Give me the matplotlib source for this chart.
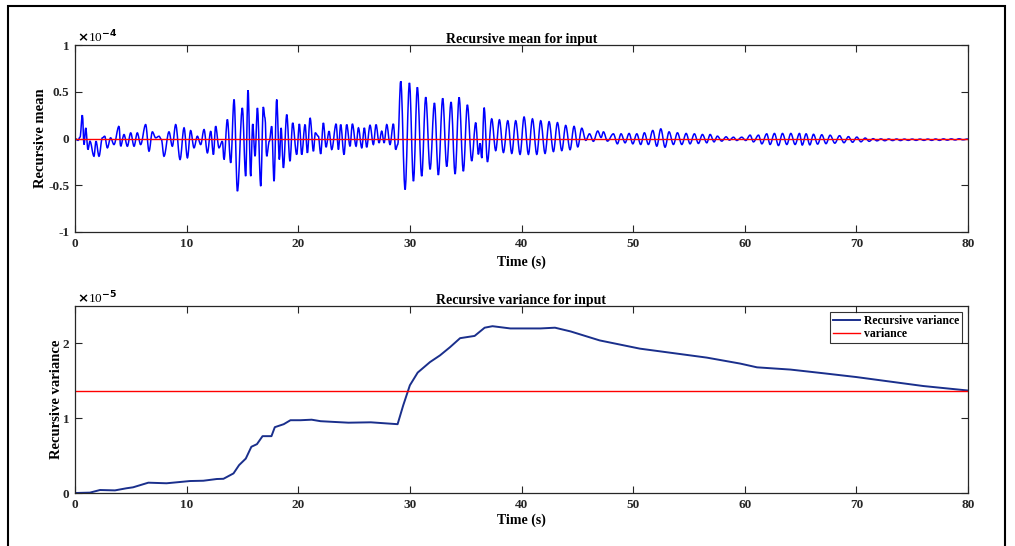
import matplotlib
matplotlib.use("Agg")
import matplotlib.pyplot as plt
from matplotlib.patches import Rectangle, PathPatch
from matplotlib.path import Path

# recursive mean of the input, local extrema (units of 1e-4)
mean_t = [
    0.00, 0.27, 0.45, 0.66, 0.81, 0.96, 1.16, 1.34, 1.70, 1.88, 2.15, 2.45, 2.66, 2.90,
    3.19, 3.49, 3.94, 4.09, 4.39, 4.69, 4.99, 5.29, 5.58, 5.88, 6.33, 6.63, 6.93, 7.23,
    7.53, 7.74, 7.97, 8.42, 8.72, 9.02, 9.41, 9.77, 10.07, 10.36, 10.66, 10.96, 11.26,
    11.56, 11.86, 12.16, 12.40, 12.60, 12.90, 13.20, 13.35, 13.65, 13.95, 14.25, 14.55,
    14.99, 15.29, 15.50, 15.74, 15.92, 16.13, 16.34, 16.64, 16.87, 17.02, 17.17, 17.41,
    17.62, 17.83, 18.07, 18.31, 18.46, 18.67, 18.97, 19.26, 19.50, 19.86, 20.10, 20.31,
    20.61, 20.82, 21.06, 21.36, 21.53, 21.80, 22.01, 22.25, 22.49, 22.76, 23.00, 23.39,
    23.60, 23.80, 24.10, 24.34, 24.64, 24.85, 25.18, 25.39, 25.69, 25.92, 26.13, 26.43,
    26.73, 26.97, 27.24, 27.48, 27.69, 27.93, 28.22, 28.52, 28.73, 28.91, 29.18, 29.57,
    29.96, 30.32, 30.67, 31.06, 31.42, 31.81, 32.20, 32.55, 32.94, 33.30, 33.69, 34.05,
    34.41, 34.79, 35.15, 35.54, 35.90, 36.14, 36.29, 36.44, 36.65, 36.95, 37.33, 37.69,
    38.02, 38.38, 38.77, 39.13, 39.48, 39.87, 40.23, 40.62, 40.98, 41.37, 41.72, 42.11,
    42.47, 42.86, 43.22, 43.61, 43.96, 44.35, 44.71, 45.04, 45.40, 45.76, 46.09, 46.44,
    46.83, 47.13, 47.34, 47.70, 48.23, 48.59, 48.92, 49.28, 49.64, 49.97, 50.33, 50.68,
    51.01, 51.37, 51.76, 52.12, 52.48, 52.86, 53.22, 53.61, 53.97, 54.36, 54.75, 55.10,
    55.49, 55.85, 56.21, 56.60, 56.90, 57.25, 57.55, 57.94, 58.33, 58.63, 58.99, 59.29,
    59.73, 60.09, 60.48, 60.78, 61.23, 61.53, 61.97, 62.27, 62.66, 63.02, 63.38, 63.77,
    64.13, 64.51, 64.90, 65.15, 65.50, 65.83, 66.16, 66.53, 66.90, 67.28, 67.65, 68.07,
    68.49, 68.89, 69.29, 69.66, 70.04, 70.41, 70.79, 71.15, 71.50, 71.85, 72.20, 72.55,
    72.90, 73.25, 73.60, 73.95, 74.30, 74.65, 75.00, 75.35, 75.70, 76.05, 76.40, 76.75,
    77.10, 77.45, 77.80, 78.15, 78.50, 78.85, 79.20, 79.55, 80.00,
]
mean_v = [
    0.000, -0.020, 0.014, 0.250, -0.065, 0.114, -0.118, -0.029, -0.190, -0.029, -0.190,
    0.007, 0.024, -0.100, 0.007, -0.065, 0.131, -0.083, 0.042, -0.083, 0.060, -0.083,
    0.060, -0.065, 0.149, -0.136, 0.071, 0.007, 0.024, -0.011, -0.190, 0.071, -0.083,
    0.149, -0.225, 0.114, -0.207, 0.085, -0.100, 0.024, -0.065, 0.096, -0.154, 0.078,
    -0.172, 0.131, -0.100, -0.029, -0.225, 0.203, -0.260, 0.417, -0.564, 0.327, -0.403,
    0.516, -0.403, 0.156, -0.190, 0.327, -0.510, 0.338, 0.220, -0.190, -0.029, 0.131,
    -0.457, 0.417, -0.225, 0.114, -0.314, 0.256, -0.243, 0.167, -0.172, 0.156, -0.172,
    0.149, -0.154, 0.220, -0.136, 0.060, 0.024, -0.165, 0.167, -0.093, 0.078, -0.118,
    0.156, -0.118, 0.149, -0.172, 0.149, -0.083, 0.156, -0.083, 0.114, -0.100, 0.114,
    -0.093, 0.142, -0.065, 0.149, -0.047, 0.078, -0.047, 0.149, -0.065, 0.156, -0.118,
    -0.065, 0.613, -0.546, 0.595, -0.457, 0.548, -0.403, 0.442, -0.330, 0.380, -0.390,
    0.430, -0.300, 0.390, -0.380, 0.440, -0.350, 0.360, -0.240, 0.170, -0.170, -0.050,
    -0.210, 0.330, -0.250, 0.210, -0.130, 0.200, -0.150, 0.190, -0.160, 0.190, -0.170,
    0.230, -0.170, 0.210, -0.170, 0.190, -0.160, 0.180, -0.140, 0.170, -0.130, 0.140,
    -0.120, 0.130, -0.090, 0.110, -0.020, 0.050, -0.030, 0.080, 0.010, 0.071, -0.028,
    0.050, -0.057, 0.050, -0.046, 0.054, -0.057, 0.050, -0.064, 0.061, -0.064, 0.086,
    -0.082, 0.103, -0.093, 0.071, -0.064, 0.061, -0.064, 0.054, -0.057, 0.050, -0.053,
    0.043, -0.046, 0.043, -0.036, 0.025, -0.028, 0.018, -0.018, 0.014, -0.021, 0.014,
    -0.021, 0.036, -0.036, 0.036, -0.057, 0.050, -0.064, 0.054, -0.075, 0.054, -0.064,
    0.054, -0.064, 0.054, -0.070, 0.050, -0.068, 0.045, -0.060, 0.040, -0.055, 0.035,
    -0.050, 0.030, -0.045, 0.020, -0.040, 0.015, -0.035, 0.005, -0.030, -0.002, -0.025,
    -0.004, -0.024, -0.005, -0.022, -0.005, -0.022, -0.006, -0.020, -0.006, -0.020,
    -0.006, -0.020, -0.006, -0.020, -0.005, -0.020, -0.004, -0.018, -0.004, -0.016,
    -0.003, -0.014, -0.005,
]
mean_level = 0.0

# recursive variance (units of 1e-5)
var_t = [0.0, 1.34, 2.24, 3.58, 4.6, 5.2, 6.57, 8.2, 9.4, 10.3, 11.5, 12.7, 13.3, 14.2,
         14.7, 15.3, 15.8, 16.3, 16.8, 17.6, 17.9, 18.7, 19.3, 20.2, 21.2, 22.0, 23.1,
         24.5, 26.5, 28.9, 29.4, 30.0, 30.7, 31.8, 32.7, 33.6, 34.5, 35.8, 36.7, 37.4,
         39.0, 41.7, 43.0, 44.4, 47.0, 50.6, 53.6, 56.6, 59.6, 61.1, 64.1, 67.1, 70.0,
         73.0, 76.0, 80.0]
var_v = [0.0, 0.005, 0.04, 0.035, 0.063, 0.076, 0.138, 0.13, 0.147, 0.16, 0.164, 0.187,
         0.19, 0.262, 0.373, 0.46, 0.618, 0.653, 0.76, 0.76, 0.88, 0.92, 0.973, 0.973,
         0.98, 0.96, 0.951, 0.94, 0.945, 0.92, 1.17, 1.44, 1.61, 1.75, 1.84, 1.95, 2.07,
         2.1, 2.21, 2.23, 2.2, 2.2, 2.21, 2.16, 2.04, 1.93, 1.87, 1.81, 1.73, 1.68, 1.65,
         1.60, 1.55, 1.49, 1.43, 1.37]
variance_level = 1.37

x_ticks = [0, 10, 20, 30, 40, 50, 60, 70, 80]
mean_yticks = [-1, -0.5, 0, 0.5, 1]
var_yticks = [0, 1, 2]


def smooth_path(xs, ys, k=0.36):
    """Bezier path through extrema, flat tangent at each one."""
    verts = [(xs[0], ys[0])]
    codes = [Path.MOVETO]
    for i in range(1, len(xs)):
        d = xs[i] - xs[i - 1]
        verts += [(xs[i - 1] + k * d, ys[i - 1]), (xs[i] - k * d, ys[i]), (xs[i], ys[i])]
        codes += [Path.CURVE4] * 3
    return Path(verts, codes)


plt.rcParams["font.family"] = "serif"
plt.rcParams["font.serif"] = ["Liberation Serif", "DejaVu Serif"]
plt.rcParams["font.weight"] = "bold"
plt.rcParams["axes.labelweight"] = "bold"
plt.rcParams["axes.titleweight"] = "bold"

W, H = 1015, 546
fig = plt.figure(figsize=(W / 100, H / 100), dpi=100)
ax1 = fig.add_axes([75 / W, 1 - 232 / H, 893 / W, 187 / H])
ax2 = fig.add_axes([75 / W, 1 - 493 / H, 893 / W, 187 / H])

spine_col = "#262626"
for ax in (ax1, ax2):
    for s in ax.spines.values():
        s.set_color(spine_col)
        s.set_linewidth(0.9)
    ax.tick_params(direction="in", top=True, right=True, length=5, width=0.8,
                   labelsize=9.5, colors="#262626", pad=4)
    ax.set_xlim(0, 80)
    ax.set_xticks(x_ticks)

ax1.set_xlabel("Time (s)", fontsize=10, labelpad=4)
ax2.set_xlabel("Time (s)", fontsize=10, labelpad=2)

# top panel
ax1.add_patch(PathPatch(smooth_path(mean_t, mean_v), fill=False,
                        edgecolor="#0000ff", lw=1.1))
ax1.axhline(mean_level, color="#ff0000", lw=1.0)
ax1.set_ylim(-1, 1)
ax1.set_yticks(mean_yticks)
ax1.set_yticklabels(["-1", "-0.5", "0", "0.5", "1"])
ax1.set_ylabel("Recursive mean", fontsize=10.5, labelpad=1)
ax1.set_title("Recursive mean for input", fontsize=10, pad=1.5)
ax1.text(0.002, 1.0, r"$\times$10$^{-4}$", transform=ax1.transAxes, fontsize=9.5,
         fontweight="normal", ha="left", va="bottom")

# bottom panel
ax2.plot(var_t, var_v, color="#1a2f8c", lw=1.4, label="Recursive variance")
ax2.axhline(variance_level, color="#ff0000", lw=1.0, label="variance")
ax2.set_ylim(0, 2.5)
ax2.set_yticks(var_yticks)
ax2.set_ylabel("Recursive variance", fontsize=10.5, labelpad=0)
ax2.set_title("Recursive variance for input", fontsize=10, pad=1.5)
ax2.text(0.002, 1.0, r"$\times$10$^{-5}$", transform=ax2.transAxes, fontsize=9.5,
         fontweight="normal", ha="left", va="bottom")
leg = ax2.legend(loc="upper right", fontsize=8.5, frameon=True, fancybox=False,
                 edgecolor="black", borderpad=0.25, handlelength=2.3, handletextpad=0.3,
                 labelspacing=0.1, borderaxespad=0.5)
leg.get_frame().set_linewidth(0.8)

# outer frame of the exported figure
fig.patches.append(Rectangle((8 / W, -0.05), 997 / W, 1.05 - 6 / H, transform=fig.transFigure,
                             fill=False, edgecolor="black", lw=1.5, clip_on=False))

fig.savefig("out.png", dpi=100)
